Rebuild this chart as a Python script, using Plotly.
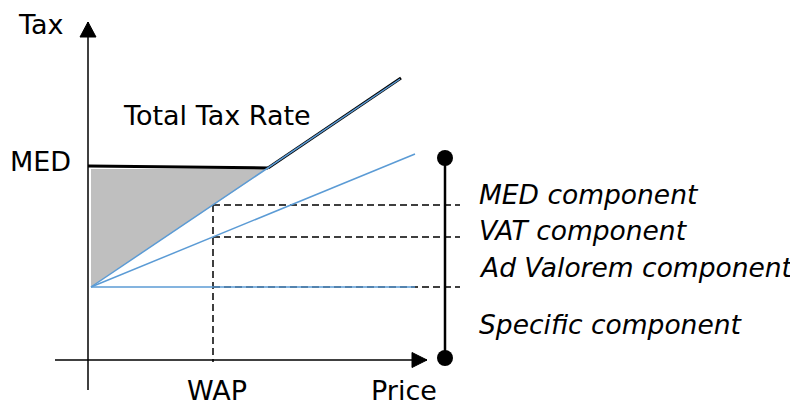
import plotly.graph_objects as go

# ---- data (diagram units: 1 unit ~ 1 px, origin at axes crossing) ----
specific_x = [3, 327]
specific_y = [73, 73]
vat_x = [3, 327]
vat_y = [73, 206]
adval_x = [3, 312]
adval_y = [73, 281]
med_x = [0, 180]
med_y = [194, 192]
total_x = [180, 313]
total_y = [192, 282]
fill_x = [3, 179, 3, 3]
fill_y = [191, 191, 73, 191]
wap = 125
wap_levels = [155, 123, 73]
dash_end = 372
bracket_x = 357
bracket_y = [2, 202]
yaxis_span = [-30, 338]
xaxis_span = [-33, 339]

component_labels = ["MED component", "VAT component", "Ad Valorem component", "Specific component"]
component_label_y = [166, 130, 93, 36]

BLUE = "#5B9BD5"
FONT = "DejaVu Sans"
FS = 27
FS_I = 26.5

fig = go.Figure()

# gray area
fig.add_trace(go.Scatter(x=fill_x, y=fill_y, fill="toself", fillcolor="#BFBFBF",
                         line=dict(width=0), mode="lines", hoverinfo="skip"))

# dashed guides
for lv in wap_levels:
    fig.add_trace(go.Scatter(x=[wap, dash_end], y=[lv, lv], mode="lines",
                             line=dict(color="black", width=1.5, dash="7px,4px")))
fig.add_trace(go.Scatter(x=[wap, wap], y=[wap_levels[0], -2], mode="lines",
                         line=dict(color="black", width=1.5, dash="7px,4px")))

# black total tax line
fig.add_trace(go.Scatter(x=med_x, y=med_y, mode="lines", line=dict(color="black", width=3)))
fig.add_trace(go.Scatter(x=total_x, y=total_y, mode="lines", line=dict(color="black", width=3)))

# blue component lines
for xs, ys in [(specific_x, specific_y), (vat_x, vat_y), (adval_x, adval_y)]:
    fig.add_trace(go.Scatter(x=xs, y=ys, mode="lines", line=dict(color=BLUE, width=1.5)))

# axes
fig.add_trace(go.Scatter(x=[0, 0], y=yaxis_span, mode="lines", line=dict(color="black", width=1.5)))
fig.add_trace(go.Scatter(x=xaxis_span, y=[0, 0], mode="lines", line=dict(color="black", width=1.5)))
# arrowheads
ty = yaxis_span[1]
fig.add_trace(go.Scatter(x=[0, -8, 8, 0], y=[ty, ty - 15, ty - 15, ty], fill="toself",
                         fillcolor="black", line=dict(color="black", width=1), mode="lines"))
tx = xaxis_span[1]
fig.add_trace(go.Scatter(x=[tx, tx - 15, tx - 15, tx], y=[0, 7.5, -7.5, 0], fill="toself",
                         fillcolor="black", line=dict(color="black", width=1), mode="lines"))

# bracket
fig.add_trace(go.Scatter(x=[bracket_x, bracket_x], y=bracket_y, mode="lines+markers",
                         line=dict(color="black", width=2.5),
                         marker=dict(color="black", size=16)))

anns = [
    dict(text="Tax", x=-72, y=336, xanchor="left", font=dict(size=FS)),
    dict(text="MED", x=-80, y=199, xanchor="left", font=dict(size=FS)),
    dict(text="Total Tax Rate", x=33, y=245, xanchor="left", font=dict(size=FS)),
    dict(text="WAP", x=wap + 4, y=-30, xanchor="center", font=dict(size=FS)),
    dict(text="Price", x=281, y=-30, xanchor="left", font=dict(size=FS)),
]
for t, yy in zip(component_labels, component_label_y):
    anns.append(dict(text="<i>" + t + "</i>", x=389, y=yy, xanchor="left", font=dict(size=FS_I)))
for a in anns:
    a["font"].update(family=FONT, color="black")
    a.update(xref="x", yref="y", showarrow=False, yanchor="middle")

# page body has an 8px margin: figure spans page px 8..798 x 8..403
fig.update_layout(
    width=790, height=395,
    margin=dict(l=0, r=0, t=0, b=0),
    paper_bgcolor="white", plot_bgcolor="white",
    showlegend=False,
    xaxis=dict(range=[-80, 710], visible=False, fixedrange=True),
    yaxis=dict(range=[-43, 352], visible=False, fixedrange=True),
    annotations=anns,
)
fig.write_html("out.html")
